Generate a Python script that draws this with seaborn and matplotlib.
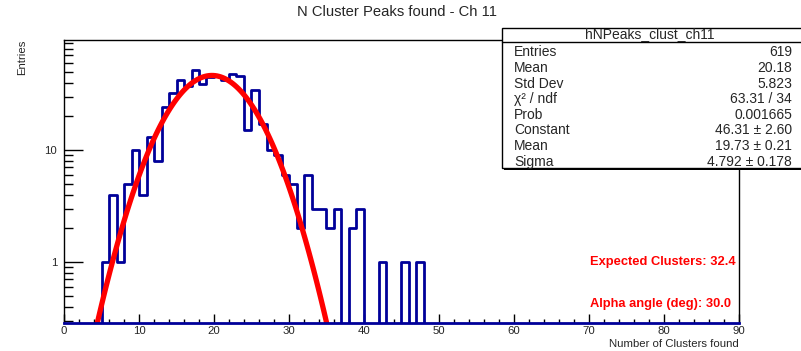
import numpy as np
import pandas as pd
import matplotlib
matplotlib.use("Agg")
import matplotlib.pyplot as plt
import matplotlib.ticker as mticker
from matplotlib.patches import Rectangle
import seaborn as sns

# ---------------- data ----------------
bin_low_edges = list(range(0, 48))
counts = [0, 0, 0, 0, 0, 1, 4, 1, 5, 10, 4, 13, 8, 24, 32, 42, 37, 52, 39, 45,
          46, 42, 48, 46, 15, 34, 17, 10, 9, 6, 5, 2, 6, 3, 3, 2, 3, 0, 2, 3,
          0, 0, 1, 0, 0, 1, 0, 1]
x_lo, x_hi = 0, 90
fit_const = 46.31
fit_mean = 19.73
fit_sigma = 4.792
fit_range = [4.0, 35.0]

hist_name = "hNPeaks_clust_ch11"
stats_labels = ["Entries", "Mean", "Std Dev", "\u03c7\u00b2 / ndf", "Prob",
                "Constant", "Mean", "Sigma"]
stats_values = ["619", "20.18", "5.823", "63.31 / 34", "0.001665",
                "46.31 \u00b1 2.60", "19.73 \u00b1 0.21", "4.792 \u00b1 0.178"]
title = "N Cluster Peaks found - Ch 11"
x_label = "Number of Clusters found"
y_label = "Entries"
notes = ["Expected Clusters: 32.4", "Alpha angle (deg): 30.0"]

# ---------------- style ----------------
sns.set_theme(style="white")
plt.rcParams["font.family"] = ["Liberation Sans", "DejaVu Sans"]

W, H = 801, 351
fig = plt.figure(figsize=(W / 100, H / 100), dpi=100)
fig.patch.set_facecolor("white")

def fx(px):
    return px / W

def fy(py):
    return 1 - py / H

ax_l, ax_r, ax_t, ax_b = 64, 739, 40, 323
ax = fig.add_axes([fx(ax_l), fy(ax_b), fx(ax_r - ax_l), (ax_b - ax_t) / H])
ax.set_facecolor("white")

navy = "#000099"
df = pd.DataFrame({"x": np.array(bin_low_edges) + 0.5, "w": counts})
sns.histplot(data=df, x="x", weights="w", binwidth=1, binrange=(x_lo, x_hi),
             element="step", fill=False, color=navy, linewidth=2.0, ax=ax)

xf = np.linspace(fit_range[0], fit_range[1], 120)
yf = fit_const * np.exp(-0.5 * ((xf - fit_mean) / fit_sigma) ** 2)
sns.lineplot(x=xf, y=yf, color="#ff0000", linewidth=3.8, ax=ax, sort=False)

ax.set_yscale("log")
ax.set_xlim(x_lo, x_hi)
ax.set_ylim(0.285, 96)

# ticks
ax.xaxis.set_major_locator(mticker.MultipleLocator(10))
ax.xaxis.set_minor_locator(mticker.MultipleLocator(2))
ax.yaxis.set_major_locator(mticker.FixedLocator([1, 10]))
ax.yaxis.set_major_formatter(mticker.FixedFormatter(["1", "10"]))
ax.yaxis.set_minor_locator(mticker.LogLocator(base=10, subs=np.arange(2, 10)))
ax.yaxis.set_minor_formatter(mticker.NullFormatter())
ax.tick_params(axis="x", which="major", direction="in", length=6.2, width=1.0,
               labelsize=8.2, pad=2.5, bottom=True, top=False, color="black")
ax.tick_params(axis="x", which="minor", direction="in", length=3.1, width=1.0,
               bottom=True, top=False, color="black")
ax.tick_params(axis="y", which="major", direction="in", length=13.5, width=1.0,
               labelsize=8.2, pad=5, left=True, right=False, color="black")
ax.tick_params(axis="y", which="minor", direction="in", length=6.8, width=1.0,
               left=True, right=False, color="black")
for s in ["left", "right", "top"]:
    ax.spines[s].set_color("black")
    ax.spines[s].set_linewidth(1.0)
ax.spines["bottom"].set_color(navy)
ax.spines["bottom"].set_linewidth(2.0)
ax.set_xlabel("")
ax.set_ylabel("")

# axis titles
fig.text(fx(739), fy(344), x_label, ha="right", va="center", fontsize=8.2)
fig.text(fx(22), fy(40), y_label, ha="center", va="top", rotation=90, fontsize=8.2)

# title
fig.text(fx(397), fy(12.5), title, ha="center", va="center", fontsize=10.6)

# stats box (extends past the right edge of the canvas)
bx0, bx1, by0, by1 = 502, 806, 27.5, 168
fig.add_artist(Rectangle((fx(bx0 + 2), fy(by1 + 2)), fx(bx1 - bx0), (by1 - by0) / H,
                         transform=fig.transFigure, facecolor="black",
                         edgecolor="black", linewidth=0, zorder=9))
fig.add_artist(Rectangle((fx(bx0), fy(by1)), fx(bx1 - bx0), (by1 - by0) / H,
                         transform=fig.transFigure, facecolor="white",
                         edgecolor="black", linewidth=1.0, zorder=10))
fig.add_artist(plt.Line2D([fx(bx0), fx(bx1)], [fy(42), fy(42)],
                          transform=fig.transFigure, color="black",
                          linewidth=1.0, zorder=11))
fig.text(fx(650), fy(34.5), hist_name, ha="center", va="center",
         fontsize=10.0, zorder=12)
row_y0, row_dy = 52.5, 15.6
for i, (lab, val) in enumerate(zip(stats_labels, stats_values)):
    yy = row_y0 + i * row_dy
    fig.text(fx(514), fy(yy), lab, ha="left", va="center", fontsize=10.0, zorder=12)
    fig.text(fx(792), fy(yy), val, ha="right", va="center", fontsize=10.0, zorder=12)

# red notes
fig.text(fx(590), fy(262), notes[0], ha="left", va="center", fontsize=9.3,
         fontweight="bold", color="#ff0000")
fig.text(fx(590), fy(304), notes[1], ha="left", va="center", fontsize=9.3,
         fontweight="bold", color="#ff0000")

fig.savefig("out.png", dpi=100, facecolor="white")
